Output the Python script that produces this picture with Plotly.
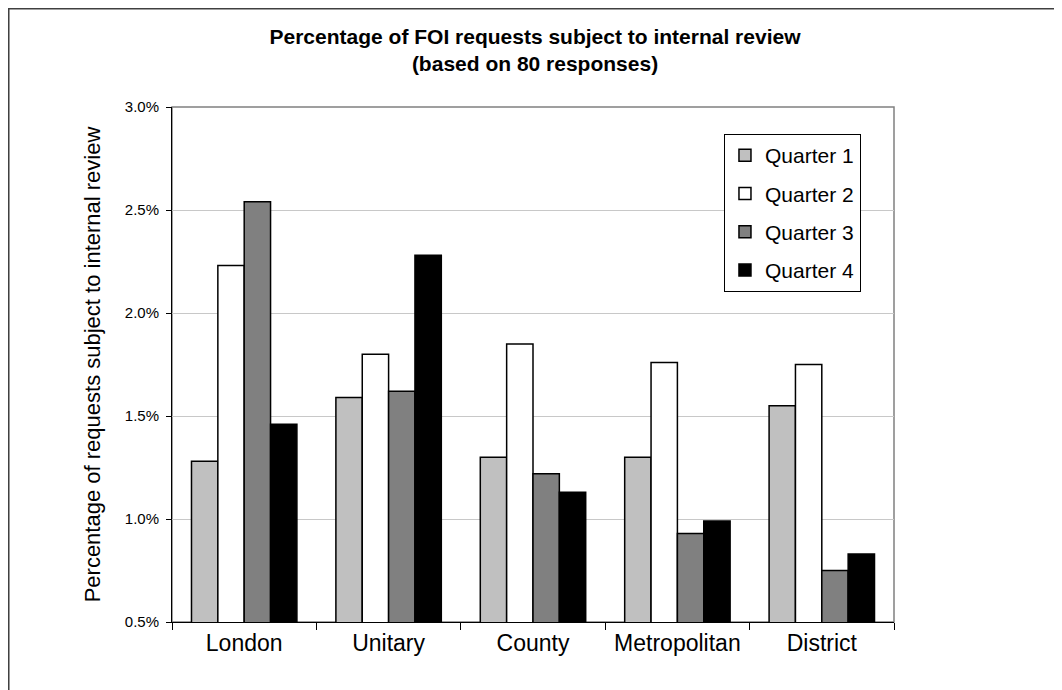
import plotly.graph_objects as go

# local authority types
authority_types = ['London', 'Unitary', 'County', 'Metropolitan', 'District']

# % of FOI requests subject to internal review, per quarter
quarter_1 = [1.28, 1.59, 1.30, 1.30, 1.55]
quarter_2 = [2.23, 1.80, 1.85, 1.76, 1.75]
quarter_3 = [2.54, 1.62, 1.22, 0.93, 0.75]
quarter_4 = [1.46, 2.28, 1.13, 0.99, 0.83]

series_names = ['Quarter 1', 'Quarter 2', 'Quarter 3', 'Quarter 4']
series_colors = ['#C0C0C0', '#FFFFFF', '#808080', '#000000']

y_ticks = [0.5, 1.0, 1.5, 2.0, 2.5, 3.0]

FONT = 'Liberation Sans, Arial, sans-serif'

fig = go.Figure()
for i, vals in enumerate([quarter_1, quarter_2, quarter_3, quarter_4]):
    fig.add_trace(go.Bar(
        x=authority_types, y=vals,
        name=series_names[i],
        legendgroup=series_names[i],
        marker=dict(color=series_colors[i], line=dict(color='#000000', width=1.5)),
        base=0,
    ))

# page body has an 8px margin, so figure is 1054x682 and sits at (8, 8)
fig.update_layout(
    width=1054, height=682,
    margin=dict(l=164, r=168, t=99, b=68),
    paper_bgcolor='white', plot_bgcolor='white',
    font=dict(family=FONT, color='#000000'),
    barmode='group', bargap=0.27, bargroupgap=0,
    title=dict(
        text='Percentage of FOI requests subject to internal review<br>(based on 80 responses)',
        x=0.5, xanchor='center', y=0.947, yanchor='top',
        font=dict(family=FONT, size=21, color='#000000', weight='bold'),
    ),
    showlegend=True,
    legend=dict(
        x=0.7645, y=0.9476, xanchor='left', yanchor='top',
        bordercolor='#000000', borderwidth=1, bgcolor='white',
        font=dict(family=FONT, size=21),
        traceorder='grouped', tracegroupgap=8,
        itemwidth=30,
    ),
    xaxis=dict(
        showline=True, linecolor='#000000', linewidth=1,
        ticks='outside', ticklen=7, tickcolor='#000000', tickson='boundaries',
        tickfont=dict(family=FONT, size=23),
        showgrid=False,
    ),
    yaxis=dict(
        range=[0.5, 3.0], tickvals=y_ticks,
        ticktext=[f'{v:.1f}%' for v in y_ticks],
        showline=True, linecolor='#000000', linewidth=1,
        ticks='outside', ticklen=5, tickcolor='#000000',
        tickfont=dict(family=FONT, size=15), ticklabelstandoff=4,
        showgrid=True, gridcolor='#C8C8C8', gridwidth=1,
        zeroline=False,
        title=dict(text='Percentage of requests subject to internal review',
                   font=dict(family=FONT, size=22), standoff=18),
    ),
    shapes=[
        # plot area frame
        dict(type='rect', xref='paper', yref='paper', x0=0, x1=1, y0=0, y1=1,
             line=dict(color='#808080', width=1.5), layer='below'),
        # outer chart border
        dict(type='rect', xref='paper', yref='paper', x0=-0.2271, x1=1.4, y0=-0.3, y1=1.1922,
             line=dict(color='#404040', width=3), layer='below'),
    ],
)

fig.write_html("out.html")
